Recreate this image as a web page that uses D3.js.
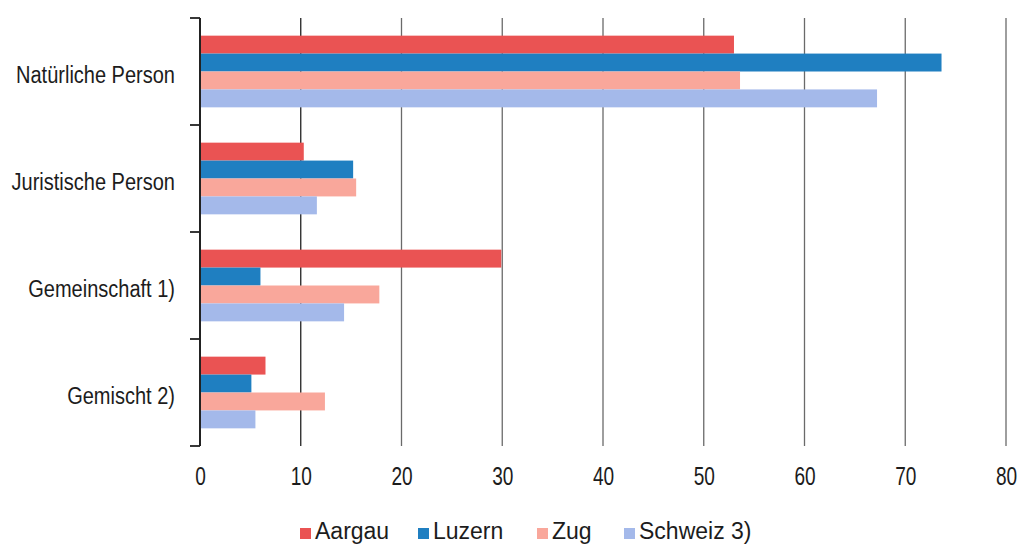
<!DOCTYPE html>
<html>
<head>
<meta charset="utf-8">
<script src="https://cdn.jsdelivr.net/npm/d3@7"></script>
<style>
  html, body { margin: 0; padding: 0; background: #fff; }
  svg { display: block; }
</style>
</head>
<body>
<svg id="chart" width="1022" height="544"></svg>
<script>
// Categories (rows) and series (cantons)
const categories = ["Natürliche Person", "Juristische Person", "Gemeinschaft 1)", "Gemischt 2)"];
const seriesNames = ["Aargau", "Luzern", "Zug", "Schweiz 3)"];
const seriesColors = ["#ea5353", "#1f7fc1", "#f9a79b", "#a4b9ea"];

// Values per series, in category order (percent)
const aargau  = [53.0, 10.3, 29.9, 6.5];
const luzern  = [73.6, 15.2, 6.0, 5.1];
const zug     = [53.6, 15.5, 17.8, 12.4];
const schweiz = [67.2, 11.6, 14.3, 5.5];

const xTicks = [0, 10, 20, 30, 40, 50, 60, 70, 80];

const seriesValues = [aargau, luzern, zug, schweiz];

const svg = d3.select("#chart");
const plotLeft = 200, plotRight = 1006, plotTop = 18, plotBottom = 446;

const x = d3.scaleLinear().domain([0, 80]).range([plotLeft, plotRight]);
const y = d3.scaleBand().domain(categories).range([plotTop, plotBottom])
  .paddingInner(0.33).paddingOuter(0.165);
const ySub = d3.scaleBand().domain(seriesNames).range([0, y.bandwidth()]);

const sans = "'Liberation Sans', Arial, Helvetica, sans-serif";
const textColor = "#1c1c1c";

// Vertical gridlines
svg.append("g")
  .selectAll("line")
  .data(xTicks.slice(1))
  .join("line")
  .attr("x1", d => x(d)).attr("x2", d => x(d))
  .attr("y1", plotTop).attr("y2", plotBottom)
  .attr("stroke", (d, i) => i === 0 ? "#222" : "#6a6a6a")
  .attr("stroke-width", 1.3);

// Bars
const rows = categories.map((c, ci) => ({
  cat: c,
  vals: seriesNames.map((s, si) => ({ s, si, v: seriesValues[si][ci] }))
}));

svg.append("g")
  .selectAll("g")
  .data(rows)
  .join("g")
  .attr("transform", d => `translate(0,${y(d.cat)})`)
  .selectAll("rect")
  .data(d => d.vals)
  .join("rect")
  .attr("x", x(0))
  .attr("y", d => ySub(d.s))
  .attr("width", d => x(d.v) - x(0))
  .attr("height", ySub.bandwidth())
  .attr("fill", d => seriesColors[d.si]);

// Category axis with ticks at band boundaries
const boundaries = categories.map(c => y(c) - y.step() * y.paddingInner() / 2)
  .concat([plotBottom]);
boundaries[0] = plotTop;

const yAxisG = svg.append("g");
yAxisG.append("line")
  .attr("x1", plotLeft).attr("x2", plotLeft)
  .attr("y1", plotTop).attr("y2", plotBottom)
  .attr("stroke", "#222").attr("stroke-width", 2);
yAxisG.selectAll("line.tick")
  .data(boundaries)
  .join("line")
  .attr("class", "tick")
  .attr("x1", plotLeft - 10).attr("x2", plotLeft)
  .attr("y1", d => d).attr("y2", d => d)
  .attr("stroke", "#222").attr("stroke-width", 1.8);

// Condensed category labels
yAxisG.selectAll("text")
  .data(categories)
  .join("text")
  .attr("transform", d => `translate(175,${y(d) + y.bandwidth() / 2 + 11}) scale(0.87,1)`)
  .attr("text-anchor", "end")
  .attr("font-family", sans)
  .attr("font-size", 23)
  .attr("fill", textColor)
  .text(d => d);

// Value axis labels (condensed, centred on each tick)
const xAxis = d3.axisBottom(x).tickValues(xTicks).tickSize(0).tickPadding(0);
const xAxisG = svg.append("g")
  .attr("transform", `translate(0,${plotBottom})`)
  .call(xAxis);
xAxisG.select(".domain").remove();
xAxisG.selectAll("text")
  .attr("dy", null)
  .attr("x", 0)
  .attr("y", 0)
  .attr("transform", "translate(0,39) scale(0.72,1)")
  .attr("font-family", sans)
  .attr("font-size", 26.5)
  .attr("fill", textColor);

// Legend
const legendX = [300, 418, 537, 624];
const legend = svg.append("g")
  .selectAll("g")
  .data(seriesNames)
  .join("g")
  .attr("transform", (d, i) => `translate(${legendX[i]},539)`);
legend.append("rect")
  .attr("x", 0).attr("y", -11)
  .attr("width", 11).attr("height", 11)
  .attr("fill", (d, i) => seriesColors[i]);
legend.append("text")
  .attr("x", 15).attr("y", 0)
  .attr("font-family", sans)
  .attr("font-size", 23)
  .attr("fill", textColor)
  .text(d => d);
</script>
</body>
</html>
